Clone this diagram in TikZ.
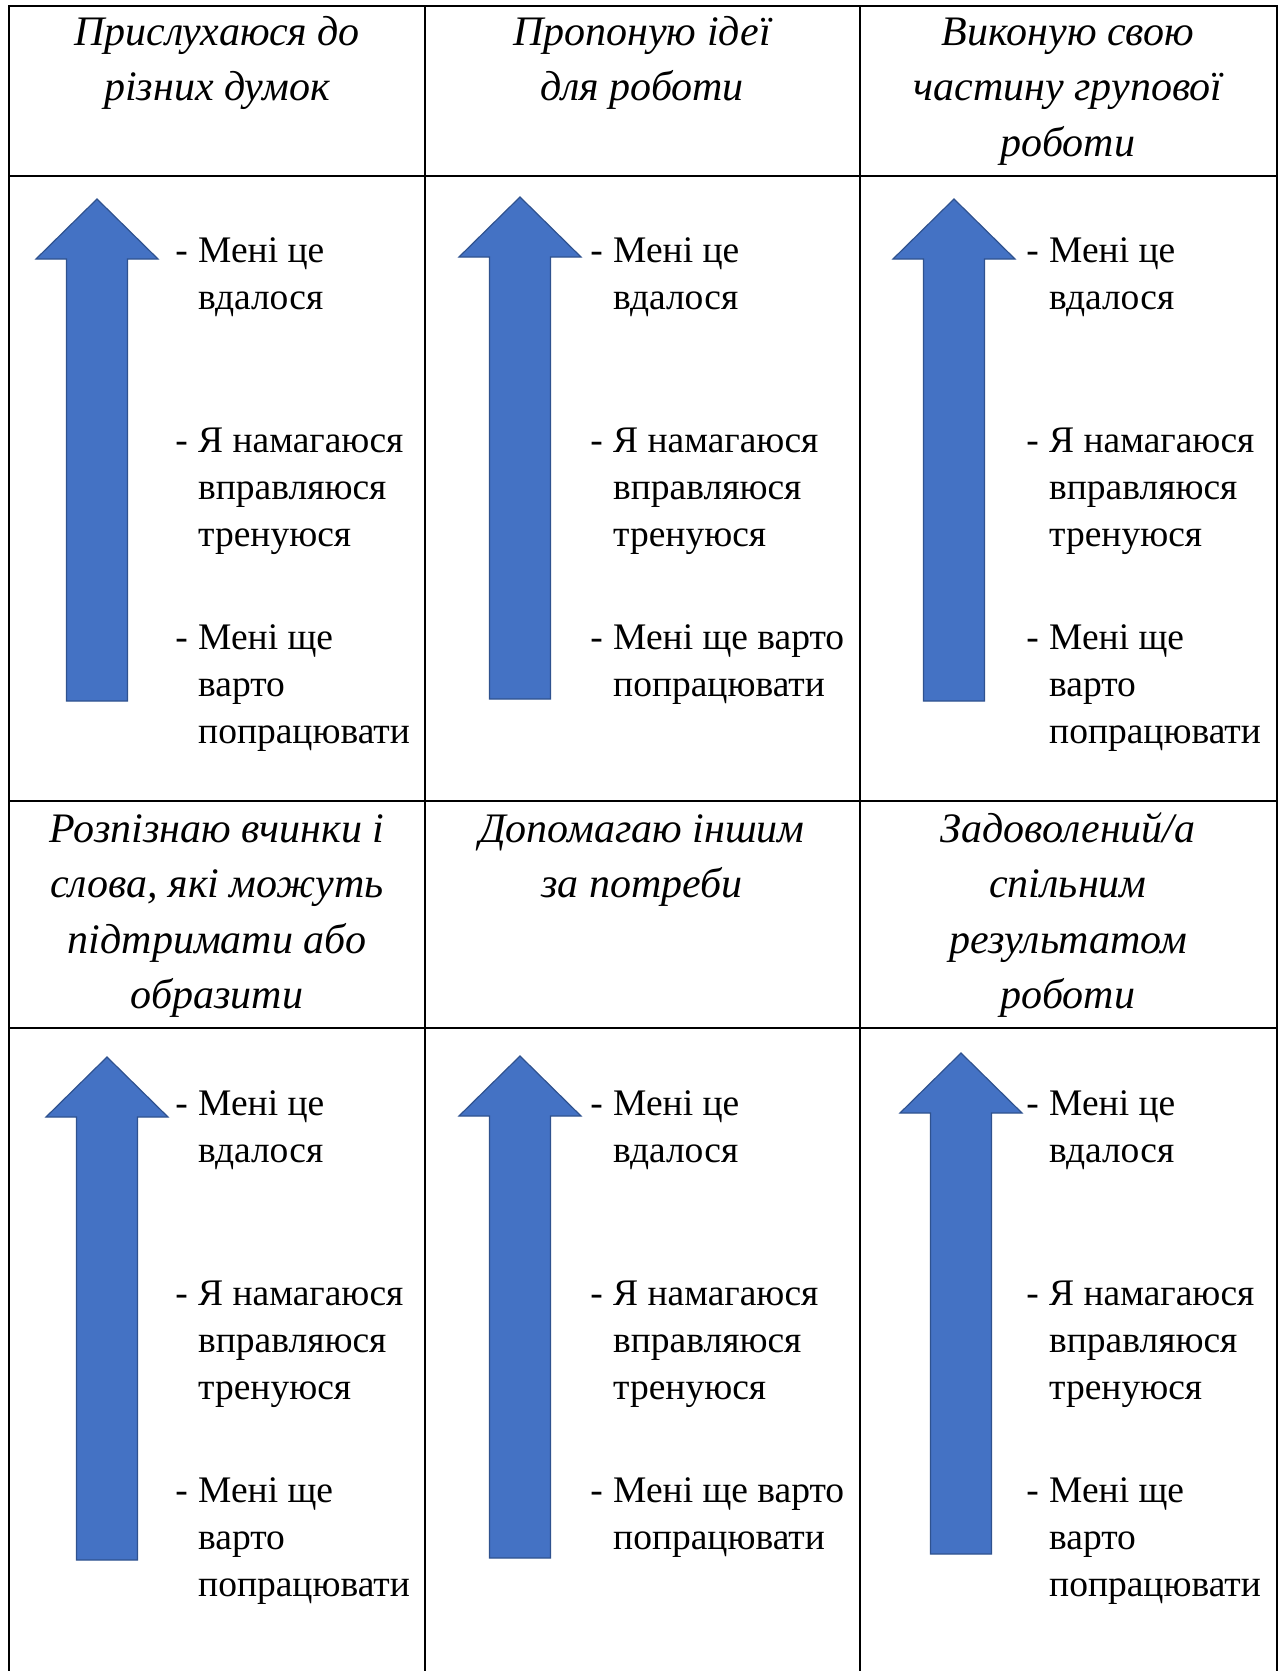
\documentclass[tikz,border=0pt]{standalone}
\usepackage{fontspec}
\setmainfont{Liberation Serif}
\definecolor{barblue}{HTML}{4472C4}
\definecolor{baredge}{HTML}{2F528F}
% upward block arrow: x of tip, y of tip, y of foot
\newcommand{\barup}[3]{%
  \draw[bar] (#1,#2) -- (#1+61,#2+60) -- (#1+30.5,#2+60) -- (#1+30.5,#3)
    -- (#1-30.5,#3) -- (#1-30.5,#2+60) -- (#1-61,#2+60) -- cycle;}
% italic heading of a cell: name, x of centre, first baseline, lines
\newcommand{\cellhead}[4]{%
  \foreach \ln [count=\k from 0] in {#4}
    \node[headline] (#1-\k) at (#2,#3+55.5*\k) {\ln};}
% one level of the scale: name, x of text, first baseline, lines
\newcommand{\levelitem}[4]{%
  \node[dashmark] (#1-d) at (#2-10,#3) {-};
  \foreach \ln [count=\k from 0] in {#4}
    \node[levelline] (#1-\k) at (#2,#3+47*\k) {\ln};}
\begin{document}
\begin{tikzpicture}[x=1pt, y=-1pt,
    grid/.style={line width=2.7pt, line cap=rect},
    bar/.style={fill=barblue, draw=baredge, line width=1.2pt},
    headline/.style={anchor=base, inner sep=0pt, font=\fontsize{42}{55}\selectfont\itshape},
    levelline/.style={anchor=base west, inner sep=0pt, font=\fontsize{37.5}{47}\selectfont},
    dashmark/.style={anchor=base east, inner sep=0pt, font=\fontsize{37.5}{47}\selectfont}]
    \useasboundingbox (0,0) rectangle (1283,1671);
    % table
    \draw[grid] (9,1671) -- (9,6) -- (1277,6) -- (1277,1671);
    \draw[grid] (425,6) -- (425,1671);
    \draw[grid] (860,6) -- (860,1671);
    \draw[grid] (9,176) -- (1277,176);
    \draw[grid] (9,801) -- (1277,801);
    \draw[grid] (9,1028) -- (1277,1028);
    % headings
    \cellhead{h11}{217}{45}{Прислухаюся до, різних думок}
    \cellhead{h12}{642}{45}{Пропоную ідеї, для роботи}
    \cellhead{h13}{1068}{45}{Виконую свою, частину групової, роботи}
    \cellhead{h21}{217}{842}{Розпізнаю вчинки і, {слова, які можуть}, підтримати або, образити}
    \cellhead{h22}{642}{842}{Допомагаю іншим, за потреби}
    \cellhead{h23}{1068}{842}{Задоволений/а, спільним, результатом, роботи}
    % arrows
    \barup{97}{199}{701}
    \barup{520}{197}{699}
    \barup{954}{199}{701}
    \barup{107}{1057}{1560}
    \barup{520}{1056}{1558}
    \barup{961}{1053}{1554}
    % first row of levels
    \levelitem{a11}{198}{262}{Мені це, вдалося}
    \levelitem{b11}{198}{452}{Я намагаюся, вправляюся, тренуюся}
    \levelitem{c11}{198}{649}{Мені ще, варто, попрацювати}
    \levelitem{a12}{613}{262}{Мені це, вдалося}
    \levelitem{b12}{613}{452}{Я намагаюся, вправляюся, тренуюся}
    \levelitem{c12}{613}{649}{Мені ще варто, попрацювати}
    \levelitem{a13}{1049}{262}{Мені це, вдалося}
    \levelitem{b13}{1049}{452}{Я намагаюся, вправляюся, тренуюся}
    \levelitem{c13}{1049}{649}{Мені ще, варто, попрацювати}
    % second row of levels
    \levelitem{a21}{198}{1115}{Мені це, вдалося}
    \levelitem{b21}{198}{1305}{Я намагаюся, вправляюся, тренуюся}
    \levelitem{c21}{198}{1502}{Мені ще, варто, попрацювати}
    \levelitem{a22}{613}{1115}{Мені це, вдалося}
    \levelitem{b22}{613}{1305}{Я намагаюся, вправляюся, тренуюся}
    \levelitem{c22}{613}{1502}{Мені ще варто, попрацювати}
    \levelitem{a23}{1049}{1115}{Мені це, вдалося}
    \levelitem{b23}{1049}{1305}{Я намагаюся, вправляюся, тренуюся}
    \levelitem{c23}{1049}{1502}{Мені ще, варто, попрацювати}
\end{tikzpicture}
\end{document}
